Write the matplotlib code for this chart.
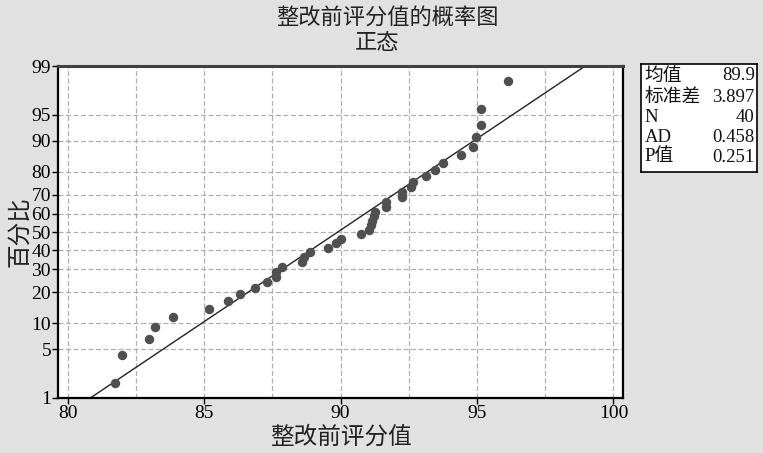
import matplotlib
matplotlib.use("Agg")
import matplotlib.pyplot as plt
from statistics import NormalDist
import numpy as np

plt.rcParams['font.family'] = ['Liberation Serif', 'Noto Sans CJK SC', 'DejaVu Sans']

# data values (sorted)
values = [81.73, 82.0, 82.99, 83.22, 83.88,
          85.18, 85.88, 86.31, 86.86, 87.29,
          87.65, 87.65, 87.87, 88.59, 88.67,
          88.87, 89.56, 89.85, 90.0, 90.74,
          91.05, 91.10, 91.17, 91.23, 91.26,
          91.66, 91.66, 92.26, 92.26, 92.60,
          92.66, 93.15, 93.45, 93.74, 94.43,
          94.85, 94.95, 95.14, 95.14, 96.15]
mean_val = 89.9
std_val = 3.897
stat_labels = ["均值", "标准差", "N", "AD", "P值"]
stat_values = ["89.9", "3.897", "40", "0.458", "0.251"]
y_ticks_pct = [1, 5, 10, 20, 30, 40, 50, 60, 70, 80, 90, 95, 99]
x_ticks = [80, 85, 90, 95, 100]
title_line1 = "整改前评分值的概率图"
title_line2 = "正态"
xlabel_text = "整改前评分值"
ylabel_text = "百分比"

nd = NormalDist()
n = len(values)
pos = [(i - 0.3) / (n + 0.4) for i in range(1, n + 1)]
zpts = [nd.inv_cdf(p) for p in pos]

W, H = 763, 453
fig = plt.figure(figsize=(W / 100, H / 100), dpi=100)
fig.patch.set_facecolor('#e1e1e1')

ax = fig.add_axes([58 / W, 1 - 398 / H, (623 - 58) / W, (398 - 66) / H])
ax.set_facecolor('white')
zmin, zmax = nd.inv_cdf(0.01), nd.inv_cdf(0.99)
ax.set_xlim(79.65, 100.35)
ax.set_ylim(zmin, zmax)

# grid
grid_x = np.arange(80, 100.01, 2.5)
for gx in grid_x:
    ax.axvline(gx, color='#b0b0b0', lw=0.9, ls=(0, (4, 2)), zorder=1)
for t in y_ticks_pct[1:-1]:
    ax.axhline(nd.inv_cdf(t / 100), color='#b0b0b0', lw=0.9, ls=(0, (4, 2)), zorder=1)

# fitted line
lx = np.array([79.65, 100.35])
ly = (lx - mean_val) / std_val
ax.plot(lx, ly, color='#222222', lw=1.0, zorder=2)

ax.plot(values, zpts, 'o', color='#505050', ms=5.8, mec='#505050', zorder=3)

ax.set_yticks([nd.inv_cdf(t / 100) for t in y_ticks_pct])
ax.set_yticklabels([str(t) for t in y_ticks_pct])
ax.set_xticks(x_ticks)
ax.set_xticklabels([str(t) for t in x_ticks])
ax.tick_params(axis='both', direction='out', length=4, width=1, labelsize=14, colors='black', pad=1)
for s in ax.spines.values():
    s.set_linewidth(1.6)
    s.set_color('black')
ax.spines['top'].set_color('#404040')
ax.spines['top'].set_linewidth(2.2)

ax.set_xlabel(xlabel_text, fontsize=17, labelpad=3, color='#222222')
ax.set_ylabel(ylabel_text, fontsize=17, labelpad=0, color='#222222')

fig.text(387 / W, 1 - 18 / H, title_line1, ha='center', va='center',
         fontsize=16, color='#222222')
fig.text(377 / W, 1 - 44 / H, title_line2, ha='center', va='center',
         fontsize=16, color='#222222')

# stats box
bx = fig.add_axes([641 / W, 1 - 172 / H, (757 - 641) / W, (172 - 64) / H])
bx.set_facecolor('white')
bx.set_xticks([]); bx.set_yticks([])
bx.set_xlim(0, 1); bx.set_ylim(0, 1)
for s in bx.spines.values():
    s.set_linewidth(1.2)
    s.set_color('black')
row_y = [76, 97, 118, 138, 157]
for lab, val, ry in zip(stat_labels, stat_values, row_y):
    yy = (172 - ry) / (172 - 64)
    bx.text(0.03, yy, lab, ha='left', va='center', fontsize=13.5, color='#111111')
    bx.text(0.98, yy, val, ha='right', va='center', fontsize=13.5, color='#111111')

fig.savefig('out.png', dpi=100, facecolor=fig.get_facecolor())
